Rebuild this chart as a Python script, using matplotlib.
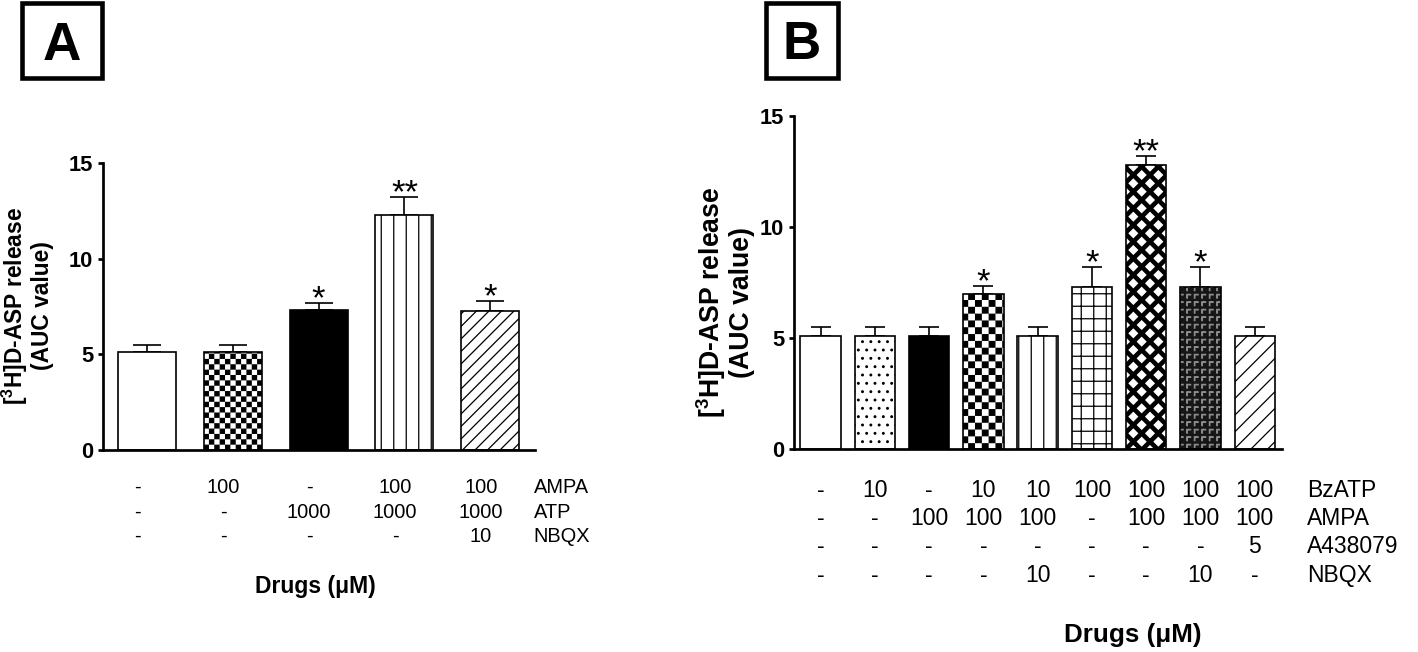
import warnings
import numpy as np
import matplotlib
matplotlib.use("Agg")
import matplotlib.pyplot as plt
import matplotlib.hatch as mhatch
from matplotlib.path import Path
from matplotlib.patches import Rectangle

warnings.filterwarnings("ignore")

# -----------------------
# data
# -----------------------
a_means = [5.1, 5.1, 7.3, 12.3, 7.28]
a_sem = [0.4, 0.4, 0.4, 0.9, 0.5]
a_stars = ["", "", "*", "**", "*"]
a_ampa = ["-", "100", "-", "100", "100"]
a_atp = ["-", "-", "1000", "1000", "1000"]
a_nbqx = ["-", "-", "-", "-", "10"]

b_means = [5.1, 5.1, 5.1, 7.0, 5.1, 7.3, 12.8, 7.3, 5.1]
b_sem = [0.4, 0.4, 0.4, 0.33, 0.4, 0.9, 0.4, 0.9, 0.4]
b_stars = ["", "", "", "*", "", "*", "**", "*", ""]
b_bzatp = ["-", "10", "-", "10", "10", "100", "100", "100", "100"]
b_ampa = ["-", "-", "100", "100", "100", "-", "100", "100", "100"]
b_a438 = ["-", "-", "-", "-", "-", "-", "-", "-", "5"]
b_nbqx = ["-", "-", "-", "-", "10", "-", "-", "10", "-"]

ylabel = "[$^{\\mathbf{3}}$H]D-ASP release\n(AUC value)"
xlabel = "Drugs (\u03bcM)"


# -----------------------
# extra hatch patterns (checkerboard, diamonds, small corners)
# -----------------------
class TileHatch(mhatch.HatchPatternBase):
    char = ""

    def __init__(self, hatch, density):
        n = 2 * hatch.count(self.char)
        self.polys = self.make(n) if n else []
        self.num_vertices = sum(len(p) + 1 for p in self.polys)

    def set_vertices_and_codes(self, vertices, codes):
        k = 0
        for p in self.polys:
            m = len(p)
            vertices[k:k + m] = p
            vertices[k + m] = p[0]
            codes[k] = Path.MOVETO
            codes[k + 1:k + m] = Path.LINETO
            codes[k + m] = Path.CLOSEPOLY
            k += m + 1


class CheckerHatch(TileHatch):
    char = "c"

    def make(self, n):
        s, e = 1.0 / n, 0.004
        out = []
        for i in range(n):
            for j in range(n):
                if (i + j) % 2 == 0:
                    x0, y0 = i * s, j * s
                    out.append([(x0 + e, y0 + e), (x0 + s - e, y0 + e),
                                (x0 + s - e, y0 + s - e), (x0 + e, y0 + s - e)])
        return out


class DiamondHatch(TileHatch):
    char = "d"

    def make(self, n):
        s = 1.0 / n
        r = 0.5 * s
        out = []
        for i in range(n + 1):
            for j in range(n + 1):
                if (i + j) % 2 == 0:
                    cx, cy = i * s, j * s
                    out.append([(cx - r, cy), (cx, cy - r), (cx + r, cy), (cx, cy + r)])
        return out


class CornerHatch(TileHatch):
    char = "g"

    def make(self, n):
        s = 1.0 / n
        shape = [(0.25, 0.25), (0.25, 0.75), (0.75, 0.75), (0.75, 0.68),
                 (0.32, 0.68), (0.32, 0.25)]
        out = []
        for i in range(n):
            for j in range(n):
                out.append([((i + u) * s, (j + v) * s) for u, v in shape])
        return out


mhatch._hatch_types.extend([CheckerHatch, DiamondHatch, CornerHatch])

plt.rcParams["font.family"] = ["Liberation Sans", "DejaVu Sans"]
plt.rcParams["mathtext.fontset"] = "custom"
plt.rcParams["mathtext.rm"] = "Liberation Sans"
plt.rcParams["mathtext.bf"] = "Liberation Sans:bold"
plt.rcParams["hatch.linewidth"] = 0.6

# bar styles: (face, hatch, hatch colour)
a_styles = [("white", None, "black"), ("white", "c" * 14, "black"),
            ("black", None, "black"), ("white", "||", "black"),
            ("white", "////", "black")]
b_styles = [("white", None, "black"), ("white", "...", "black"),
            ("black", None, "black"), ("white", "c" * 11, "black"),
            ("white", "||", "black"), ("white", "++", "black"),
            ("black", "d" * 9, "white"), ("#161616", "g" * 10, "#8c8c8c"),
            ("white", "///", "black")]

fig = plt.figure(figsize=(1418 / 150, 652 / 150), dpi=150)
ax_a = fig.add_axes([0.0726, 0.3098, 0.3047, 0.4402])
ax_b = fig.add_axes([0.5599, 0.3113, 0.3441, 0.5107])


def draw_panel(ax, means, sem, stars, styles, width, capsize, xlim):
    x = np.arange(len(means))
    for xi, m, (fc, h, hc) in zip(x, means, styles):
        ax.bar(xi, m, width, color=fc, edgecolor=hc, hatch=h, linewidth=0, zorder=2)
    ax.bar(x, means, width, fill=False, edgecolor="black", linewidth=0.8, zorder=3)
    ax.errorbar(x, means, yerr=[np.zeros(len(x)), sem], fmt="none", ecolor="black",
                elinewidth=0.8, capsize=capsize, capthick=0.8, zorder=1)
    for xi, m, s, st in zip(x, means, sem, stars):
        if st:
            ax.annotate(st, (xi, m + s), xytext=(0, -2.5), textcoords="offset points",
                        ha="center", va="baseline", fontsize=16.5)
    ax.set_xlim(*xlim)
    ax.set_ylim(0, 15)
    ax.set_yticks([0, 5, 10, 15])
    ax.set_xticks([])
    for side in ["top", "right"]:
        ax.spines[side].set_visible(False)
    for side in ["left", "bottom"]:
        ax.spines[side].set_linewidth(1.3)
    ax.tick_params(axis="y", direction="out", length=2.6, width=1.3, pad=2,
                   labelsize=10.5)
    for lab in ax.get_yticklabels():
        lab.set_fontweight("bold")
    ax.patch.set_alpha(0)


draw_panel(ax_a, a_means, a_sem, a_stars, a_styles, 0.675, 6.7, (-0.51, 4.52))
draw_panel(ax_b, b_means, b_sem, b_stars, b_styles, 0.745, 5.0, (-0.49, 8.5))

# treatment tables under the bars
a_rows = [("AMPA", a_ampa, -0.1498), ("ATP", a_atp, -0.237), ("NBQX", a_nbqx, -0.3206)]
for name, vals, yy in a_rows:
    for i, v in enumerate(vals):
        ax_a.text(i - 0.11, yy, v, transform=ax_a.get_xaxis_transform(),
                  ha="center", va="baseline", fontsize=9.6)
    ax_a.text(0.9965, yy, name, transform=ax_a.transAxes, ha="left",
              va="baseline", fontsize=9.6)

b_rows = [("BzATP", b_bzatp, -0.144), ("AMPA", b_ampa, -0.228),
          ("A438079", b_a438, -0.3123), ("NBQX", b_nbqx, -0.3994)]
for name, vals, yy in b_rows:
    for i, v in enumerate(vals):
        ax_b.text(i, yy, v, transform=ax_b.get_xaxis_transform(),
                  ha="center", va="baseline", fontsize=11)
    ax_b.text(1.051, yy, name, transform=ax_b.transAxes, ha="left",
              va="baseline", fontsize=11)

ax_a.text(0.4907, -0.498, xlabel, transform=ax_a.transAxes, ha="center",
          va="baseline", fontsize=11, fontweight="bold")
ax_b.text(0.6947, -0.5787, xlabel, transform=ax_b.transAxes, ha="center",
          va="baseline", fontsize=12.5, fontweight="bold")

ax_a.text(-0.176, 0.502, ylabel, transform=ax_a.transAxes, rotation=90,
          ha="center", va="center", multialignment="center", fontsize=10.9,
          fontweight="bold", linespacing=1.05)
ax_b.text(-0.143, 0.441, ylabel, transform=ax_b.transAxes, rotation=90,
          ha="center", va="center", multialignment="center", fontsize=12.8,
          fontweight="bold", linespacing=1.05)

# panel letters in boxes
W, H = 1418.0, 652.0
for letter, x0, x1, base in [("A", 22, 102, 60), ("B", 766, 837.5, 59.3)]:
    fig.patches.append(Rectangle((x0 / W, (H - 78) / H), (x1 - x0) / W, 75 / H,
                                 transform=fig.transFigure, fill=False,
                                 edgecolor="black", linewidth=2.2))
    fig.text((x0 + x1) / 2 / W, (H - base) / H, letter, ha="center",
             va="baseline", fontsize=25.5, fontweight="bold")

fig.savefig("out.png", dpi=150)
